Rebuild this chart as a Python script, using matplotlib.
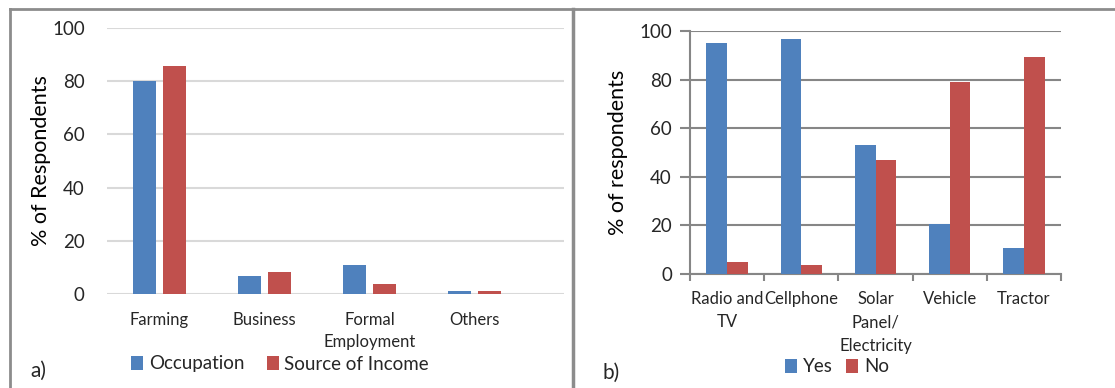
import numpy as np
import matplotlib.pyplot as plt
from matplotlib.lines import Line2D

BLUE = '#4F81BD'
RED = '#C0504D'

plt.rcParams.update({
    'font.family': ['Lato', 'DejaVu Sans'],
    'font.size': 11,
    'text.color': '#262626',
    'xtick.color': '#262626',
    'ytick.color': '#262626',
})

# ── Data ──────────────────────────────────────────────────────────────────────
cats_a = ['Farming', 'Business', 'Formal\nEmployment', 'Others']
occupation = [80, 6.6, 11, 1.1]
income = [85.6, 8.3, 3.7, 1.1]

cats_b = ['Radio and\nTV', 'Cellphone', 'Solar\nPanel/\nElectricity', 'Vehicle', 'Tractor']
yes = [95, 96.6, 53, 20.7, 10.8]
no = [4.9, 3.6, 46.8, 79, 89.4]

W, H = 1115, 388
fig = plt.figure(figsize=(W / 100, H / 100), dpi=100)

def px_axes(x0, y0, x1, y1):
    return fig.add_axes([x0 / W, 1 - y1 / H, (x1 - x0) / W, (y1 - y0) / H])

# ── Panel a ───────────────────────────────────────────────────────────────────
ax1 = px_axes(107, 28, 564, 294)
xa = np.arange(len(cats_a))
ax1.bar(xa - 0.143, occupation, 0.224, color=BLUE, zorder=3, label='Occupation')
ax1.bar(xa + 0.143, income, 0.224, color=RED, zorder=3, label='Source of Income')
ax1.set_xlim(-0.5, -0.5 + (564 - 107) / 105)
ax1.set_ylim(0, 100)
ax1.set_yticks(range(0, 101, 20))
ax1.set_xticks(xa)
ax1.set_xticklabels(cats_a, fontsize=12, linespacing=1.45)
ax1.tick_params(axis='y', labelsize=13.5, length=0, pad=16)
ax1.tick_params(axis='x', length=0, pad=13)
ax1.grid(axis='y', color='#d9d9d9', lw=1.5, zorder=0)
for s in ax1.spines.values():
    s.set_visible(False)
ax1.set_ylabel('% of Respondents', fontsize=15.5, labelpad=1)
ax1.legend(loc='center', bbox_to_anchor=(280 / W, 1 - 364 / H),
           bbox_transform=fig.transFigure, ncol=2, frameon=False, fontsize=13.5,
           handlelength=0.65, handleheight=0.75, handletextpad=0.3, columnspacing=1.2)

# ── Panel b ───────────────────────────────────────────────────────────────────
ax2 = px_axes(690, 31, 1061, 274)
xb = np.arange(len(cats_b))
ax2.bar(xb - 0.14, yes, 0.28, color=BLUE, zorder=3, label='Yes')
ax2.bar(xb + 0.14, no, 0.28, color=RED, zorder=3, label='No')
ax2.set_xlim(-0.5, 4.5)
ax2.set_ylim(0, 100)
ax2.set_yticks(range(0, 101, 20))
ax2.set_xticks(xb)
ax2.set_xticklabels(cats_b, fontsize=12, linespacing=1.6)
ax2.set_xticks(np.arange(-0.5, 5, 1), minor=True)
ax2.tick_params(axis='x', which='major', length=0, pad=12)
ax2.tick_params(axis='x', which='minor', length=5, width=1.5, color='#868686')
ax2.tick_params(axis='y', labelsize=13.5, length=7, width=1.5, color='#868686', pad=6)
ax2.grid(axis='y', color='#868686', lw=1.5, zorder=0)
for s in ['top', 'right']:
    ax2.spines[s].set_visible(False)
for s in ['left', 'bottom']:
    ax2.spines[s].set_color('#868686')
    ax2.spines[s].set_linewidth(1.5)
ax2.set_ylabel('% of respondents', fontsize=15.5, labelpad=8)
ax2.legend(loc='center', bbox_to_anchor=(837 / W, 1 - 367 / H),
           bbox_transform=fig.transFigure, ncol=2, frameon=False, fontsize=13.5,
           handlelength=0.65, handleheight=0.75, handletextpad=0.3, columnspacing=0.7)

# ── Panel labels and frame lines ──────────────────────────────────────────────
fig.text(30 / W, 1 - 371 / H, 'a)', fontsize=15, va='center')
fig.text(602 / W, 1 - 373 / H, 'b)', fontsize=15, va='center')
fig.add_artist(Line2D([10 / W, 10 / W], [0, 1 - 9 / H], color='#8c8c8c', lw=2))
fig.add_artist(Line2D([10 / W, 1], [1 - 9 / H, 1 - 9 / H], color='#8c8c8c', lw=2))
fig.add_artist(Line2D([573 / W, 573 / W], [0, 1 - 9 / H], color='#8c8c8c', lw=2.5))

fig.savefig('out.png', dpi=100, facecolor='white')
